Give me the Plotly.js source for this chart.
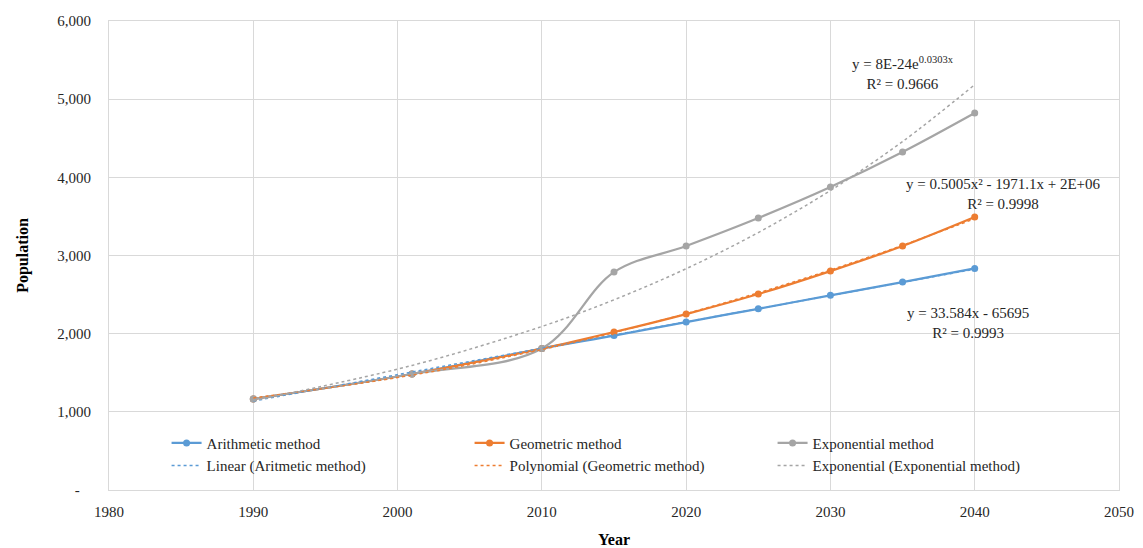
<!DOCTYPE html>
<html>
<head>
<meta charset="utf-8">
<script src="https://cdn.plot.ly/plotly-3.0.1.min.js"></script>
<style>html,body{margin:0;padding:0;background:#fff;}#chart{width:1143px;height:548px;}</style>
</head>
<body>
<div id="chart"></div>
<script>
// ---- data ----
const years = [1990, 2001, 2010, 2015, 2020, 2025, 2030, 2035, 2040];
const arithmetic = [1165, 1484, 1810, 1975, 2148, 2318, 2490, 2660, 2835];
const geometric = [1165, 1484, 1810, 2021, 2251, 2507, 2801, 3121, 3492];
const exponential = [1165, 1484, 1810, 2788, 3121, 3479, 3875, 4323, 4822];
const seriesNames = ['Arithmetic method', 'Geometric method', 'Exponential method'];
const trendNames = ['Linear (Aritmetic method)', 'Polynomial (Geometric method)', 'Exponential (Exponential method)'];
const yTickVals = [0, 1000, 2000, 3000, 4000, 5000, 6000];
const yTickText = ['-\u00a0\u00a0\u00a0', '1,000', '2,000', '3,000', '4,000', '5,000', '6,000'];
const xTickVals = [1980, 1990, 2000, 2010, 2020, 2030, 2040, 2050];
const eqTexts = ['y = 33.584x - 65695<br>R\u00b2 = 0.9993',
                 'y = 0.5005x\u00b2 - 1971.1x + 2E+06<br>R\u00b2 = 0.9998',
                 'y = 8E-24e<sup>0.0303x</sup><br>R\u00b2 = 0.9666'];
const eqPos = [[2039.5, 2135], [2042, 3790], [2035, 5330]];

// ---- least-squares fits (as a spreadsheet trendline does) ----
function mean(a){return a.reduce((s,v)=>s+v,0)/a.length;}
function linFit(x,y){
  const mx=mean(x), my=mean(y);
  let sxy=0,sxx=0;
  for(let i=0;i<x.length;i++){sxy+=(x[i]-mx)*(y[i]-my);sxx+=(x[i]-mx)*(x[i]-mx);}
  const b=sxy/sxx; return t=>my+b*(t-mx);
}
function quadFit(x,y){
  const mx=mean(x); const u=x.map(v=>v-mx);
  let S=[0,0,0,0,0],T=[0,0,0];
  for(let i=0;i<u.length;i++){
    for(let k=0;k<5;k++)S[k]+=Math.pow(u[i],k);
    for(let k=0;k<3;k++)T[k]+=y[i]*Math.pow(u[i],k);
  }
  const A=[[S[0],S[1],S[2],T[0]],[S[1],S[2],S[3],T[1]],[S[2],S[3],S[4],T[2]]];
  for(let i=0;i<3;i++){
    for(let j=i+1;j<3;j++){const f=A[j][i]/A[i][i];for(let k=i;k<4;k++)A[j][k]-=f*A[i][k];}
  }
  const c=[0,0,0];
  for(let i=2;i>=0;i--){let s=A[i][3];for(let k=i+1;k<3;k++)s-=A[i][k]*c[k];c[i]=s/A[i][i];}
  return t=>{const d=t-mx;return c[0]+c[1]*d+c[2]*d*d;};
}
function expFit(x,y){
  const f=linFit(x,y.map(v=>Math.log(v)));
  return t=>Math.exp(f(t));
}
const linF=linFit(years,arithmetic), quadF=quadFit(years,geometric), expF=expFit(years,exponential);

const colors=['#5b9bd5','#ed7d31','#a5a5a5'];
const dataSets=[arithmetic,geometric,exponential];
const fits=[linF,quadF,expF];

const traces=[];
for(let i=0;i<3;i++){
  traces.push({x:years,y:dataSets[i],name:seriesNames[i],type:'scatter',mode:'lines+markers',
    line:{color:colors[i],width:2.25,shape:'spline',smoothing:1},marker:{color:colors[i],size:7,symbol:'circle'}});
}
for(let i=0;i<3;i++){
  traces.push({x:years,y:years.map(fits[i]),name:trendNames[i],type:'scatter',mode:'lines',
    line:{color:colors[i],width:1.5,dash:'dot',shape:i===0?'linear':'spline'}});
}

const fnt='Liberation Serif';
const annotations=eqTexts.map((t,i)=>({x:eqPos[i][0],y:eqPos[i][1],xref:'x',yref:'y',text:t,showarrow:false,
  align:'center',font:{family:fnt,size:15,color:'#262626'}}));

const layout={
  width:1143,height:548,
  margin:{l:109,r:24,t:21,b:58,pad:0},
  paper_bgcolor:'#fff',plot_bgcolor:'#fff',
  font:{family:fnt,size:15,color:'#262626'},
  showlegend:true,
  legend:{orientation:'h',x:0.057,xanchor:'left',y:0.135,yanchor:'top',
    entrywidth:258,bgcolor:'rgba(255,255,255,0)',font:{family:fnt,size:15,color:'#262626'},tracegroupgap:0},
  xaxis:{range:[1980,2050],tickvals:xTickVals,ticktext:xTickVals.map(String),showgrid:true,gridcolor:'#d9d9d9',gridwidth:1,
    zeroline:false,showline:true,mirror:true,linecolor:'#d9d9d9',linewidth:1,ticks:'',ticklabelstandoff:8,
    tickfont:{family:fnt,size:15,color:'#262626'},
    title:{text:'<b>Year</b>',font:{family:fnt,size:16,color:'#000'},standoff:14}},
  yaxis:{range:[0,6000],tickvals:yTickVals,ticktext:yTickText,showgrid:true,gridcolor:'#d9d9d9',gridwidth:1,
    zeroline:false,showline:true,mirror:true,linecolor:'#d9d9d9',linewidth:1,ticks:'',ticklabelstandoff:14,
    tickfont:{family:fnt,size:15,color:'#262626'},
    title:{text:'<b>Population</b>',font:{family:fnt,size:16,color:'#000'},standoff:24}},
  annotations:annotations
};
Plotly.newPlot('chart',traces,layout,{displayModeBar:false,staticPlot:true});
</script>
</body>
</html>
